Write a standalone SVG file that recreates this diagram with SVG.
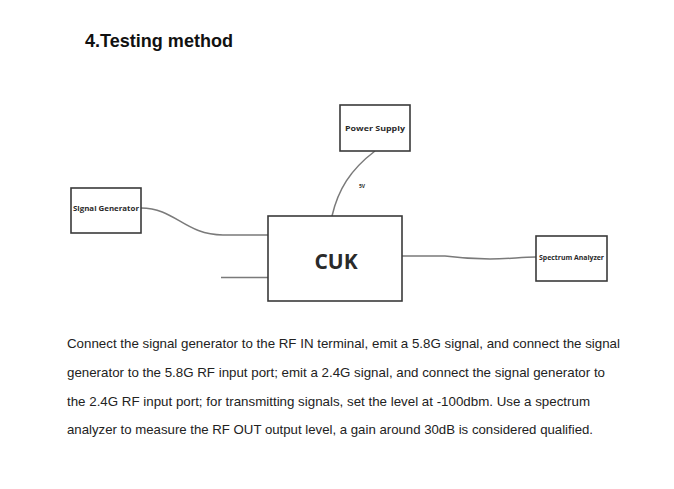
<svg xmlns="http://www.w3.org/2000/svg" width="674" height="489" viewBox="0 0 674 489">
<style>
.box{fill:#fff;stroke:#3a3a3a;stroke-width:1.6}
.wire{fill:none;stroke:#7a7a7a;stroke-width:1.5}
.lbl{font-family:"Open Sans","Liberation Sans",sans-serif;font-weight:bold;fill:#2a2a2a;text-anchor:middle;dominant-baseline:central}
.para{font-family:"Liberation Sans",Arial,sans-serif;font-size:13px;fill:#222}
</style>
<rect width="674" height="489" fill="#fff"/>
<text x="85" y="47" font-family="Liberation Sans,Arial,sans-serif" font-weight="bold" font-size="18.5" fill="#111" textLength="148" lengthAdjust="spacingAndGlyphs">4.Testing method</text>
<g id="connectors">
<path class="wire" d="M141,208 C175,208 185,235 223,235 L268,235"/>
<path class="wire" d="M221,277.5 L268,277.5"/>
<path class="wire" d="M375,151 C350,170 338,190 332,216"/>
<path class="wire" d="M402,256 L445,256 C460,258 475,259 490,259 C510,259 520,257 536,257"/>
<text x="362" y="186" class="lbl" font-size="5">5V</text>
</g>
<g id="signal-generator">
<rect class="box" x="71" y="188" width="70" height="45"/>
<text class="lbl" x="106" y="208" font-size="7.5" textLength="66" lengthAdjust="spacingAndGlyphs">Signal Generator</text>
</g>
<g id="power-supply">
<rect class="box" x="340" y="105" width="70" height="46"/>
<text class="lbl" x="375" y="128" font-size="7.5" textLength="60" lengthAdjust="spacingAndGlyphs">Power Supply</text>
</g>
<g id="cuk">
<rect class="box" x="268" y="216" width="134" height="85"/>
<text class="lbl" x="336" y="261" font-size="21">CUK</text>
</g>
<g id="spectrum-analyzer">
<rect class="box" x="536" y="236" width="71" height="45"/>
<text class="lbl" x="571.5" y="257" font-size="6.5" textLength="65" lengthAdjust="spacingAndGlyphs">Spectrum Analyzer</text>
</g>
<text class="para" x="67" y="348" textLength="553" lengthAdjust="spacingAndGlyphs">Connect the signal generator to the RF IN terminal, emit a 5.8G signal, and connect the signal</text>
<text class="para" x="67" y="377" textLength="538" lengthAdjust="spacingAndGlyphs">generator to the 5.8G RF input port; emit a 2.4G signal, and connect the signal generator to</text>
<text class="para" x="67" y="406" textLength="523" lengthAdjust="spacingAndGlyphs">the 2.4G RF input port; for transmitting signals, set the level at -100dbm. Use a spectrum</text>
<text class="para" x="67" y="434" textLength="526" lengthAdjust="spacingAndGlyphs">analyzer to measure the RF OUT output level, a gain around 30dB is considered qualified.</text>
</svg>
